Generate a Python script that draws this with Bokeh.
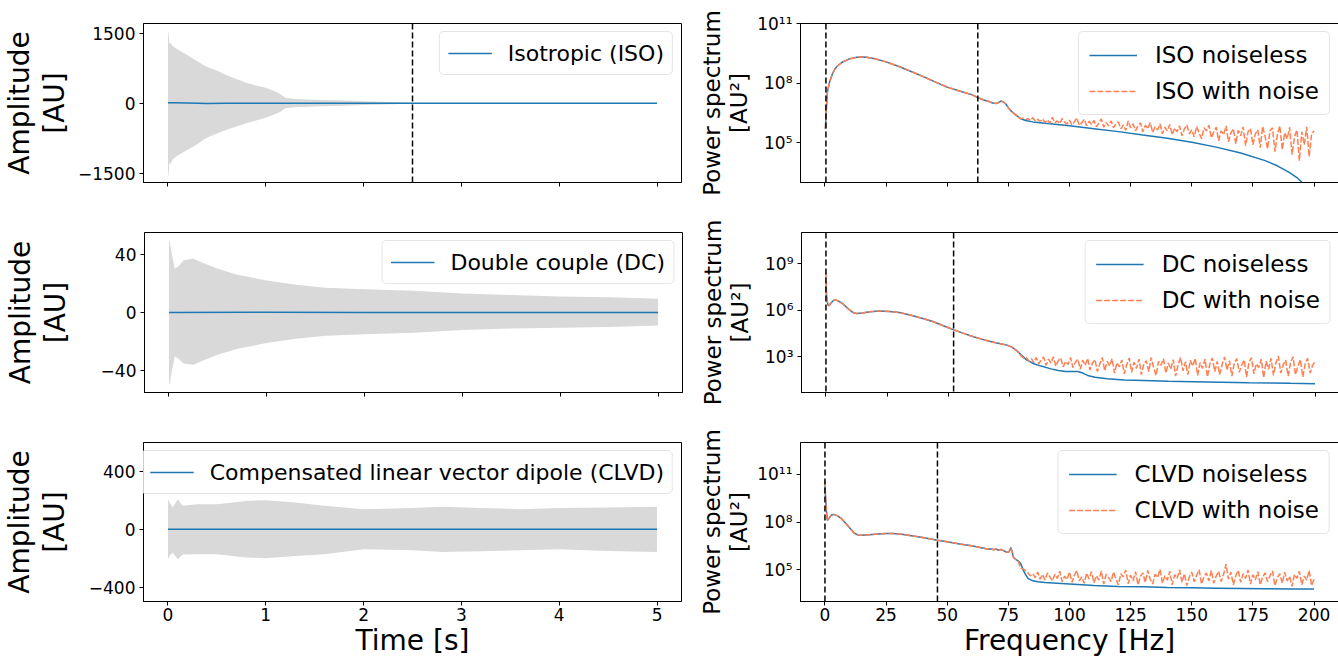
from bokeh.plotting import figure
from bokeh.layouts import column, row
from bokeh.models import Range1d, FixedTicker, CustomJSTickFormatter, Span
from bokeh.embed import file_html
from bokeh.resources import INLINE

FONT = "DejaVu Sans"
BLUE = "#1f77b4"
ORANGE = "#ff7f50"
GREY = "#d9d9d9"

# ---------------- tick labels ----------------
time_ticks = [0, 1, 2, 3, 4, 5]
freq_ticks = [0, 25, 50, 75, 100, 125, 150, 175, 200]
iso_amp_ticks = [-1500, 0, 1500]
dc_amp_ticks = [-40, 0, 40]
clvd_amp_ticks = [-400, 0, 400]
iso_pow_ticks = [1e5, 1e8, 1e11]
dc_pow_ticks = [1e3, 1e6, 1e9]
clvd_pow_ticks = [1e5, 1e8, 1e11]

# ---------------- time-domain data ----------------
iso_env_t = [0, 0.008, 0.014, 0.02, 0.05, 0.1, 0.2, 0.3, 0.38, 0.42, 0.5, 0.6, 0.7, 0.8, 0.9, 1.0, 1.1, 1.15, 1.2, 1.3, 1.5, 1.8, 2.0, 2.3, 2.5, 2.6, 5.0]
iso_env_hi = [1560, 1480, 1260, 1300, 1220, 1150, 1030, 900, 800, 760, 700, 600, 520, 440, 380, 330, 250, 190, 120, 90, 75, 60, 45, 25, 10, 3, 2]
iso_env_lo = [-1580, -1500, -1250, -1320, -1200, -1120, -1000, -880, -760, -720, -650, -570, -500, -430, -370, -310, -230, -180, -110, -85, -70, -55, -40, -22, -8, -3, -2]
iso_sig_t = [0, 0.05, 0.2, 0.4, 0.6, 1.0, 1.5, 2.5, 5.0]
iso_sig = [10, 12, 5, -4, -3, 0, 0, 0, 0]

dc_env_t = [0, 0.01, 0.03, 0.06, 0.1, 0.15, 0.25, 0.35, 0.5, 0.7, 1.0, 1.3, 1.6, 2.0, 2.5, 3.0, 3.5, 4.0, 4.5, 5.0]
dc_env_hi = [50, 48, 40, 30, 32, 36, 37, 34, 30, 26, 22, 19, 17, 16, 15, 13, 12, 11, 10.5, 9.5]
dc_env_lo = [-50, -48, -40, -30, -32, -35, -36, -33, -29, -25, -21, -18, -16, -15, -14, -12, -11, -10.5, -10, -9]
dc_sig_t = [0, 1, 2, 3, 4, 5]
dc_sig = [0, 0.2, 0, 0, 0, 0]

clvd_env_t = [0, 0.02, 0.05, 0.1, 0.15, 0.3, 0.5, 0.8, 1.0, 1.3, 1.6, 2.0, 2.5, 2.8, 3.2, 3.6, 4.0, 4.5, 5.0]
clvd_env_hi = [208, 180, 150, 208, 162, 173, 173, 196, 201, 185, 162, 139, 146, 155, 146, 139, 146, 150, 155]
clvd_env_lo = [-208, -180, -162, -208, -175, -173, -173, -195, -201, -185, -173, -139, -145, -157, -152, -146, -139, -150, -157]
clvd_sig_t = [0, 1, 2, 3, 4, 5]
clvd_sig = [0, 0, 0, 0, 0, 0]

iso_time_marker = [2.5]

# ---------------- spectra (log10 of power) ----------------
iso_f = [0.2, 0.5, 1, 1.5, 2, 3, 4, 5, 7, 10, 13, 15, 17, 20, 25, 30, 35, 40, 45, 50, 55, 60, 62.5, 65, 67, 68.5, 70, 71, 72, 73, 74, 75, 76.5, 78, 80, 82, 85, 90, 100, 110, 120, 130, 140, 150, 160, 170, 180, 185, 190, 193, 196, 198, 200]
iso_logp = [5.7, 6.6, 7.55, 7.85, 8.1, 8.45, 8.7, 8.85, 9.05, 9.22, 9.3, 9.32, 9.3, 9.24, 9.07, 8.85, 8.6, 8.34, 8.06, 7.8, 7.6, 7.42, 7.27, 7.15, 7.08, 7.0, 6.98, 7.02, 7.1, 7.05, 6.95, 6.75, 6.55, 6.4, 6.22, 6.12, 6.05, 5.98, 5.85, 5.71, 5.56, 5.39, 5.23, 5.03, 4.78, 4.48, 4.1, 3.84, 3.5, 3.25, 2.9, 2.6, 2.2]

noise_f = list(range(80, 201))
iso_noise_logp = [
    6.20, 6.24, 6.16, 6.22, 6.12, 6.26, 6.10, 6.18, 6.08, 6.20,
    6.02, 6.15, 5.98, 6.28, 6.00, 6.10, 5.96, 6.22, 6.04, 5.94,
    6.14, 5.90, 6.05, 6.25, 5.88, 6.00, 6.18, 5.86, 6.08, 5.92,
    6.12, 5.80, 5.98, 6.20, 5.78, 6.02, 5.85, 6.10, 5.76, 5.95,
    6.05, 5.70, 5.90, 5.62, 6.10, 5.75, 5.95, 5.60, 5.85, 6.00,
    5.55, 5.88, 5.70, 6.02, 5.52, 5.80, 5.65, 5.95, 5.45, 5.78,
    5.60, 5.92, 5.40, 5.75, 5.55, 5.85, 5.35, 5.70, 5.90, 5.45,
    5.65, 5.30, 5.82, 5.50, 5.20, 5.75, 5.60, 5.88, 5.25, 5.55,
    5.78, 5.10, 5.60, 5.40, 5.85, 5.05, 5.50, 5.70, 4.95, 5.62,
    5.35, 5.80, 4.85, 5.55, 5.72, 4.90, 5.45, 5.65, 4.75, 5.82,
    5.30, 4.70, 5.60, 5.75, 4.55, 5.40, 5.85, 4.65, 5.50, 5.20,
    5.78, 4.40, 5.30, 5.65, 4.10, 5.55, 4.90, 5.80, 4.30, 5.45,
    5.60]

dc_f = [0, 0.2, 0.5, 0.8, 1.2, 2, 3, 4, 5, 7, 9, 11, 12.5, 15, 18, 22, 26, 30, 34, 40, 44, 48, 52, 56, 60, 64, 68, 71, 74, 76, 78, 80, 82, 85, 88, 92, 95, 98, 100, 103, 105, 107, 110, 115, 122, 130, 140, 156, 173, 190, 200]
dc_logp = [7.6, 7.0, 6.6, 6.35, 6.28, 6.45, 6.62, 6.65, 6.6, 6.4, 6.1, 5.85, 5.78, 5.82, 5.9, 5.95, 5.92, 5.85, 5.7, 5.45, 5.25, 5.0, 4.75, 4.52, 4.3, 4.12, 3.95, 3.85, 3.75, 3.62, 3.4, 3.1, 2.8, 2.55, 2.4, 2.22, 2.12, 2.05, 2.05, 2.05, 1.95, 1.8, 1.68, 1.58, 1.5, 1.47, 1.43, 1.38, 1.33, 1.29, 1.27]
dc_noisy_peak0 = 8.4
dc_noise_logp = [
    3.02, 2.90, 2.95, 2.70, 2.88, 2.62, 2.95, 2.55, 2.80, 2.98,
    2.45, 2.85, 2.60, 3.00, 2.40, 2.75, 2.92, 2.35, 2.70, 2.50,
    2.95, 2.30, 2.65, 2.85, 2.20, 2.78, 2.45, 2.90, 2.15, 2.60,
    2.82, 2.05, 2.55, 2.95, 2.10, 2.70, 2.40, 2.88, 1.95, 2.62,
    2.35, 2.80, 1.90, 2.50, 2.92, 2.00, 2.65, 2.25, 2.85, 1.85,
    2.55, 2.75, 2.05, 2.95, 2.30, 1.80, 2.70, 2.45, 2.88, 1.95,
    2.60, 2.20, 2.82, 1.75, 2.50, 2.95, 2.10, 2.68, 1.85, 2.78,
    2.40, 2.90, 1.80, 2.62, 2.25, 2.85, 1.70, 2.55, 2.92, 2.05,
    2.70, 1.85, 2.50, 2.98, 2.15, 2.75, 1.75, 2.60, 2.88, 2.00,
    2.45, 2.80, 1.70, 2.65, 2.95, 1.90, 2.55, 2.30, 2.85, 1.65,
    2.72, 2.20, 2.90, 1.80, 2.60, 3.05, 1.95, 2.50, 2.78, 1.75,
    2.65, 3.00, 1.85, 2.40, 2.82, 1.70, 2.55, 2.90, 1.95, 2.45,
    2.70]

clvd_f = [0, 0.3, 0.6, 1, 1.5, 2.5, 3.5, 5, 6.5, 8, 10, 12, 13.5, 15, 18, 22, 25, 28, 32, 36, 40, 46, 50, 55, 60, 65, 67, 68, 69, 70, 71, 72, 73, 74, 75, 75.5, 76, 76.5, 77, 78, 79, 80, 81, 82, 83, 85, 87, 90, 95, 100, 105, 110, 120, 130, 140, 150, 160, 170, 180, 190, 200]
clvd_logp = [10.3, 9.4, 8.7, 8.1, 8.2, 8.42, 8.48, 8.4, 8.25, 8.0, 7.65, 7.3, 7.18, 7.16, 7.2, 7.25, 7.28, 7.28, 7.22, 7.12, 7.02, 6.85, 6.76, 6.62, 6.5, 6.35, 6.28, 6.32, 6.25, 6.3, 6.22, 6.27, 6.2, 6.12, 6.1, 6.2, 6.4, 6.15, 5.8, 5.65, 5.55, 5.4, 5.0, 4.7, 4.45, 4.3, 4.24, 4.2, 4.15, 4.1, 4.05, 4.0, 3.95, 3.92, 3.88, 3.86, 3.84, 3.82, 3.8, 3.79, 3.78]
clvd_noisy_peak0 = 10.6
clvd_noise_logp = [
    5.10, 5.05, 4.95, 4.80, 4.62, 4.75, 4.50, 4.85, 4.40, 4.70,
    4.35, 4.80, 4.55, 4.30, 4.72, 4.45, 4.90, 4.25, 4.60, 4.38,
    4.85, 4.20, 4.65, 4.95, 4.30, 4.55, 4.15, 4.78, 4.42, 4.88,
    4.18, 4.62, 4.35, 4.92, 4.10, 4.70, 4.50, 4.25, 4.85, 4.40,
    4.05, 4.75, 4.55, 4.98, 4.12, 4.65, 4.30, 4.88, 4.05, 4.58,
    4.80, 4.20, 4.95, 4.40, 4.10, 4.72, 4.50, 5.02, 4.15, 4.62,
    4.35, 4.90, 4.05, 4.68, 4.45, 4.98, 4.20, 4.75, 4.00, 4.55,
    4.85, 4.25, 4.65, 5.00, 4.10, 4.55, 4.80, 4.30, 4.95, 4.15,
    4.60, 4.90, 4.25, 4.70, 5.35, 4.40, 4.85, 4.05, 4.62, 4.95,
    4.20, 4.75, 4.45, 4.98, 4.10, 4.68, 4.35, 4.88, 4.05, 4.55,
    4.80, 4.25, 4.62, 4.92, 4.00, 4.50, 4.75, 4.15, 4.85, 4.30,
    4.58, 3.95, 4.70, 4.45, 4.90, 4.05, 4.60, 4.35, 4.95, 4.00,
    4.40]

iso_freq_markers = [0.4, 62.5]
dc_freq_markers = [0.0, 52.2]
clvd_freq_markers = [0.0, 46.0]

# ---------------- helpers ----------------
MINUS_JS = "return (tick < 0 ? '\u2212' : '') + Math.abs(tick);"
EMPTY_JS = "return '';"
SUP_JS = """
const s = {'0':'\u2070','1':'\u00b9','2':'\u00b2','3':'\u00b3','4':'\u2074','5':'\u2075','6':'\u2076','7':'\u2077','8':'\u2078','9':'\u2079','-':'\u207b'};
const e = Math.round(Math.log10(tick));
return '10' + String(e).split('').map(c => s[c]).join('');
"""


def noisy_series(f_clean, p_clean, p_noise, peak0=None):
    ff = [f for f in f_clean if f < 80] + noise_f
    pp = [p for f, p in zip(f_clean, p_clean) if f < 80] + p_noise
    if peak0 is not None:
        pp[0] = peak0
    return ff, [10 ** v for v in pp]


def base_style(p, show_x, xticks, yticks, ylog):
    p.grid.visible = False
    p.outline_line_color = "black"
    p.outline_line_width = 1
    p.background_fill_color = "white"
    p.border_fill_color = "white"
    for ax in (p.xaxis[0], p.yaxis[0]):
        ax.major_tick_out = 4
        ax.major_tick_in = 0
        ax.minor_tick_line_color = None
        ax.major_tick_line_color = "black"
        ax.axis_line_color = "black"
        ax.major_label_text_font = FONT
        ax.major_label_text_font_size = "17px"
        ax.major_label_text_color = "black"
        ax.major_label_standoff = 4
        ax.axis_label_text_font = FONT
        ax.axis_label_text_font_style = "normal"
        ax.axis_label_text_color = "black"
        ax.axis_label_text_line_height = 1.05
    p.xaxis[0].ticker = FixedTicker(ticks=xticks)
    p.yaxis[0].ticker = FixedTicker(ticks=yticks)
    if show_x:
        p.xaxis[0].formatter = CustomJSTickFormatter(code=MINUS_JS)
    else:
        p.xaxis[0].formatter = CustomJSTickFormatter(code=EMPTY_JS)
        p.xaxis[0].major_label_text_font_size = "0px"
        p.xaxis[0].major_label_standoff = 0
    p.yaxis[0].formatter = CustomJSTickFormatter(code=SUP_JS if ylog else MINUS_JS)


def style_legend(p, font_px, glyph_w, standoff, pad):
    lg = p.legend[0]
    lg.location = "top_right"
    lg.label_text_font = FONT
    lg.label_text_font_size = font_px
    lg.label_text_color = "black"
    lg.border_line_color = "#cccccc"
    lg.border_line_width = 1
    lg.background_fill_alpha = 0.8
    lg.glyph_width = glyph_w
    lg.glyph_height = 26
    lg.label_height = 26
    lg.label_standoff = standoff
    lg.padding = pad
    lg.spacing = 10
    lg.margin = 8
    if "border_radius" in lg.properties():
        lg.border_radius = 5


# rows: (top border, frame height, bottom border)
rows_geom = [(23, 159, 35), (15, 160, 35), (15, 159, 55)]


def time_fig(i, yr, yticks, env_t, hi, lo, sig_t, sig, label, ylab_standoff, markers=None):
    tb, fh, bb = rows_geom[i]
    last = i == 2
    p = figure(frame_width=538, frame_height=fh, x_range=Range1d(-0.25, 5.25), y_range=Range1d(*yr),
               output_backend="svg", toolbar_location=None,
               min_border_left=142, min_border_right=5, min_border_top=tb, min_border_bottom=bb)
    base_style(p, last, time_ticks, yticks, False)
    p.varea(x=env_t, y1=lo, y2=hi, fill_color=GREY, fill_alpha=1.0)
    p.line(sig_t, sig, line_color=BLUE, line_width=1.5, legend_label=label)
    if markers:
        for m in markers:
            p.add_layout(Span(location=m, dimension="height", line_color="black", line_width=1.5, line_dash="6 3"))
    p.yaxis[0].axis_label = "Amplitude\n[AU]"
    p.yaxis[0].axis_label_text_font_size = "28px"
    p.yaxis[0].axis_label_standoff = ylab_standoff
    if last:
        p.xaxis[0].axis_label = "Time [s]"
        p.xaxis[0].axis_label_text_font_size = "28px"
        p.xaxis[0].axis_label_standoff = 0
        p.xaxis[0].major_label_standoff = 2
    style_legend(p, "22px", 44, 16, 8)
    return p


def spec_fig(i, yr, yticks, f_c, p_c, f_n, p_n, name, markers, ylab_standoff):
    tb, fh, bb = rows_geom[i]
    last = i == 2
    p = figure(frame_width=538, frame_height=fh, x_range=Range1d(-10, 210), y_range=Range1d(*yr),
               y_axis_type="log", output_backend="svg", toolbar_location=None,
               min_border_left=114, min_border_right=1, min_border_top=tb, min_border_bottom=bb)
    base_style(p, last, freq_ticks, yticks, True)
    p.line(f_c, [10 ** v for v in p_c], line_color=BLUE, line_width=1.5, legend_label=name + " noiseless")
    p.line(f_n, p_n, line_color=ORANGE, line_width=1.5, line_dash="6 2", legend_label=name + " with noise")
    for m in markers:
        p.add_layout(Span(location=m, dimension="height", line_color="black", line_width=1.5, line_dash="6 3"))
    p.yaxis[0].axis_label = "Power spectrum\n[AU\u00b2]"
    p.yaxis[0].axis_label_text_font_size = "23px"
    p.yaxis[0].axis_label_standoff = ylab_standoff
    if last:
        p.xaxis[0].axis_label = "Frequency [Hz]"
        p.xaxis[0].axis_label_text_font_size = "28px"
        p.xaxis[0].axis_label_standoff = 0
        p.xaxis[0].major_label_standoff = 2
    style_legend(p, "23px", 48, 18, 10)
    return p


p1 = time_fig(0, (-1700, 1710), iso_amp_ticks, iso_env_t, iso_env_hi, iso_env_lo, iso_sig_t, iso_sig,
              "Isotropic (ISO)", 4, iso_time_marker)
p3 = time_fig(1, (-55, 55), dc_amp_ticks, dc_env_t, dc_env_hi, dc_env_lo, dc_sig_t, dc_sig,
              "Double couple (DC)", 26)
p5 = time_fig(2, (-500, 600), clvd_amp_ticks, clvd_env_t, clvd_env_hi, clvd_env_lo, clvd_sig_t, clvd_sig,
              "Compensated linear vector dipole (CLVD)", 15)

iso_fn, iso_pn = noisy_series(iso_f, iso_logp, iso_noise_logp)
dc_fn, dc_pn = noisy_series(dc_f, dc_logp, dc_noise_logp, dc_noisy_peak0)
clvd_fn, clvd_pn = noisy_series(clvd_f, clvd_logp, clvd_noise_logp, clvd_noisy_peak0)

p2 = spec_fig(0, (1e3, 1e11), iso_pow_ticks, iso_f, iso_logp, iso_fn, iso_pn, "ISO", iso_freq_markers, 2)
p4 = spec_fig(1, (10 ** 0.7, 1e11), dc_pow_ticks, dc_f, dc_logp, dc_fn, dc_pn, "DC", dc_freq_markers, 9)
p6 = spec_fig(2, (1e3, 1e13), clvd_pow_ticks, clvd_f, clvd_logp, clvd_fn, clvd_pn, "CLVD", clvd_freq_markers, 2)

layout = column(row(p1, p2), row(p3, p4), row(p5, p6))
open("out.html", "w").write(file_html(layout, INLINE))
